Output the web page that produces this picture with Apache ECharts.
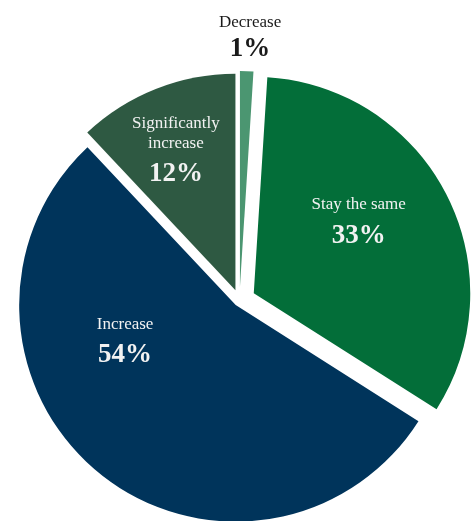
<!DOCTYPE html>
<html>
<head>
<meta charset="utf-8">
<script src="https://cdn.jsdelivr.net/npm/echarts@6/dist/echarts.min.js"></script>
<style>
  html, body { margin: 0; padding: 0; background: #fff; }
  #chart { width: 473px; height: 521px; }
</style>
</head>
<body>
<div id="chart"></div>
<script>
// slices, clockwise from 12 o'clock
var names = ['Decrease', 'Stay the same', 'Increase', 'Significantly\nincrease'];
var values = [1, 33, 54, 12];
var colors = ['#4b9671', '#036e39', '#00345b', '#2e5942'];
var labelColors = ['#1a1a1a', '#f2f2f2', '#f2f2f2', '#f2f2f2'];
// how far each slice is pulled out (not the same for every slice)
var explode = [13, 16, 6, 11];
// where each label block should be centred
var labelPos = [[250, 42], [356, 227], [127, 343], [177, 157]];

var serif = '"Liberation Serif", "DejaVu Serif", serif';
var center = [239.5, 300.5];
var radius = 216.5;

var total = 0;
for (var i = 0; i < values.length; i++) total += values[i];

// one pie per slice so every slice can have its own pull-out;
// the other slices in that pie are left transparent
var series = [];
var start = 0;
for (var k = 0; k < names.length; k++) {
    var mid = (start + values[k] / 2) / total * 2 * Math.PI;
    start += values[k];
    var sx = Math.sin(mid), sy = -Math.cos(mid);
    var c = [center[0] + explode[k] * sx, center[1] + explode[k] * sy];
    // pie puts inside labels half way out; shift from there with uneven padding
    var dx = labelPos[k][0] - (c[0] + radius / 2 * sx);
    var dy = labelPos[k][1] - (c[1] + radius / 2 * sy);

    var data = [];
    for (var i = 0; i < names.length; i++) {
        if (i != k) {
            data.push({ name: names[i], value: values[i],
                        itemStyle: { color: 'rgba(0,0,0,0)' }, label: { show: false } });
            continue;
        }
        data.push({
            name: names[i],
            value: values[i],
            itemStyle: { color: colors[i] },
            label: {
                padding: [Math.max(0, 2 * dy), Math.max(0, -2 * dx), Math.max(0, -2 * dy), Math.max(0, 2 * dx)],
                rich: {
                    n: { color: labelColors[i], fontFamily: serif, fontSize: 17, lineHeight: 20, align: 'center' },
                    v: { color: labelColors[i], fontFamily: serif, fontSize: 27, fontWeight: 'bold',
                         lineHeight: i == 0 ? 32 : 42, align: 'center' }
                }
            }
        });
    }

    series.push({
        type: 'pie',
        center: c,
        radius: radius,
        startAngle: 90,
        clockwise: true,
        silent: true,
        emphasis: { disabled: true },
        itemStyle: { borderWidth: 0 },
        label: {
            show: true,
            position: 'inside',
            formatter: function (p) {
                return '{n|' + p.name.split('\n').join('}\n{n|') + '}\n{v|' + p.value + '%}';
            }
        },
        labelLine: { show: false },
        data: data
    });
}

var myChart = echarts.init(document.getElementById('chart'));
myChart.setOption({
    animation: false,
    series: series
});
</script>
</body>
</html>
